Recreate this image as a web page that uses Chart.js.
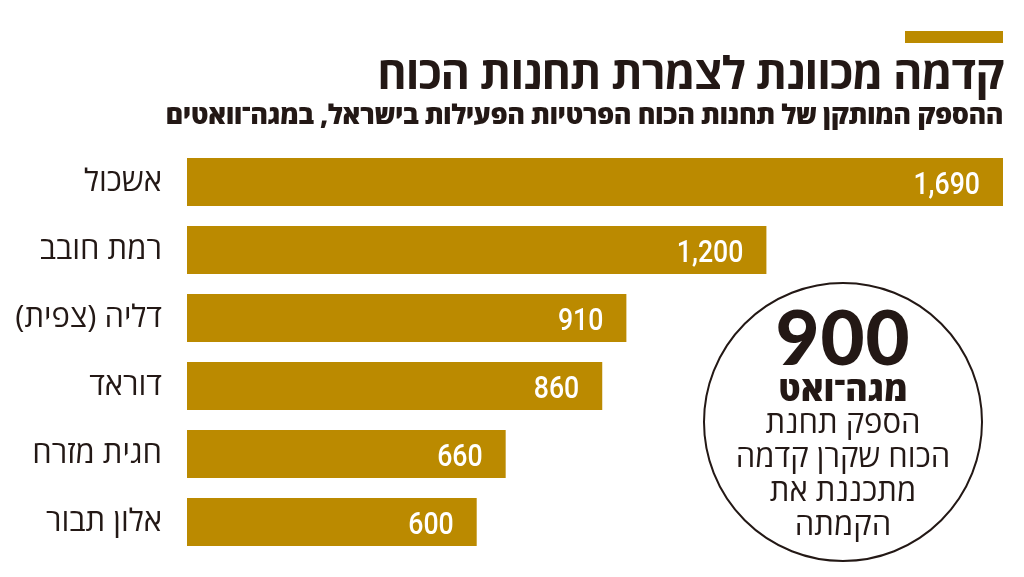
<!DOCTYPE html>
<html lang="he">
<head>
<meta charset="utf-8">
<script src="https://cdn.jsdelivr.net/npm/chart.js@4"></script>
<style>
    body { margin: 0; background: #fff; }
    #wrap { position: relative; width: 1024px; height: 577px; overflow: hidden; font-family: "Open Sans", "DejaVu Sans", sans-serif; color: #231815; }
    #chart { position: absolute; left: 0; top: 0; }
    .topbar { position: absolute; left: 905px; top: 31px; width: 98px; height: 12px; background: #bb8a00; }
    .title { position: absolute; right: 21px; top: 47px; direction: rtl; font-size: 45px; font-weight: 700; line-height: 50px; letter-spacing: -1px; white-space: nowrap; }
    .subtitle { position: absolute; right: 21px; top: 97px; direction: rtl; font-size: 27px; font-weight: 800; line-height: 34px; letter-spacing: -0.5px; white-space: nowrap; }
    .circle { position: absolute; left: 703px; top: 282px; width: 276px; height: 276px; border: 2.5px solid #231815; border-radius: 50%; background: #fff; }
    .circle-text { position: absolute; left: 703px; top: 298px; width: 280px; text-align: center; direction: rtl; }
    .big { font-family: Lato, "Open Sans", sans-serif; font-size: 76px; font-weight: 900; line-height: 76px; letter-spacing: 1px; }
    .unit { font-size: 34px; font-weight: 800; line-height: 32px; margin-top: -2px; }
    .desc { font-size: 31px; line-height: 34px; margin-top: 0px; }
</style>
</head>
<body>
<div id="wrap">
    <canvas id="chart" width="1024" height="577"></canvas>
    <div class="topbar"></div>
    <div class="title">קדמה מכוונת לצמרת תחנות הכוח</div>
    <div class="subtitle">ההספק המותקן של תחנות הכוח הפרטיות הפעילות בישראל, במגה־וואטים</div>
    <div class="circle"></div>
    <div class="circle-text">
        <div class="big">900</div>
        <div class="unit">מגה־ואט</div>
        <div class="desc">הספק תחנת<br>הכוח שקרן קדמה<br>מתכננת את<br>הקמתה</div>
    </div>
</div>
<script>
const stations = ['אשכול', 'רמת חובב', 'דליה (צפית)', 'דוראד', 'חגית מזרח', 'אלון תבור'];
const megawatts = [1690, 1200, 910, 860, 660, 600];

const GOLD = '#bb8a00';

// white value label inside the end of each bar (squeezed to look condensed)
const valueLabels = {
    id: 'valueLabels',
    afterDatasetsDraw(chart) {
        const ctx = chart.ctx;
        const meta = chart.getDatasetMeta(0);
        meta.data.forEach((bar, i) => {
            ctx.save();
            ctx.translate(bar.x - 23, bar.y + 4);
            ctx.scale(0.86, 1);
            ctx.fillStyle = '#fff';
            ctx.font = '500 31px Roboto, sans-serif';
            ctx.textAlign = 'right';
            ctx.textBaseline = 'middle';
            ctx.fillText(megawatts[i].toLocaleString('en-US'), 0, 0);
            ctx.restore();
        });
    }
};

new Chart(document.getElementById('chart'), {
    type: 'bar',
    data: {
        labels: stations,
        datasets: [{
            data: megawatts,
            backgroundColor: GOLD,
            barPercentage: 0.706,
            categoryPercentage: 1
        }]
    },
    options: {
        indexAxis: 'y',
        responsive: false,
        animation: false,
        events: [],
        layout: { padding: { top: 148, bottom: 21, right: 21, left: 0 } },
        plugins: { legend: { display: false }, tooltip: { enabled: false } },
        scales: {
            x: { min: 0, max: 1690, display: false },
            y: {
                grid: { display: false },
                border: { display: false },
                afterFit(scale) {
                    scale.width = 187;
                    scale.paddingTop = 0;
                    scale.paddingBottom = 0;
                },
                ticks: {
                    padding: 17,
                    color: '#231815',
                    font: { family: '"Open Sans", "DejaVu Sans", sans-serif', size: 31 }
                }
            }
        }
    },
    plugins: [valueLabels]
});
</script>
</body>
</html>
